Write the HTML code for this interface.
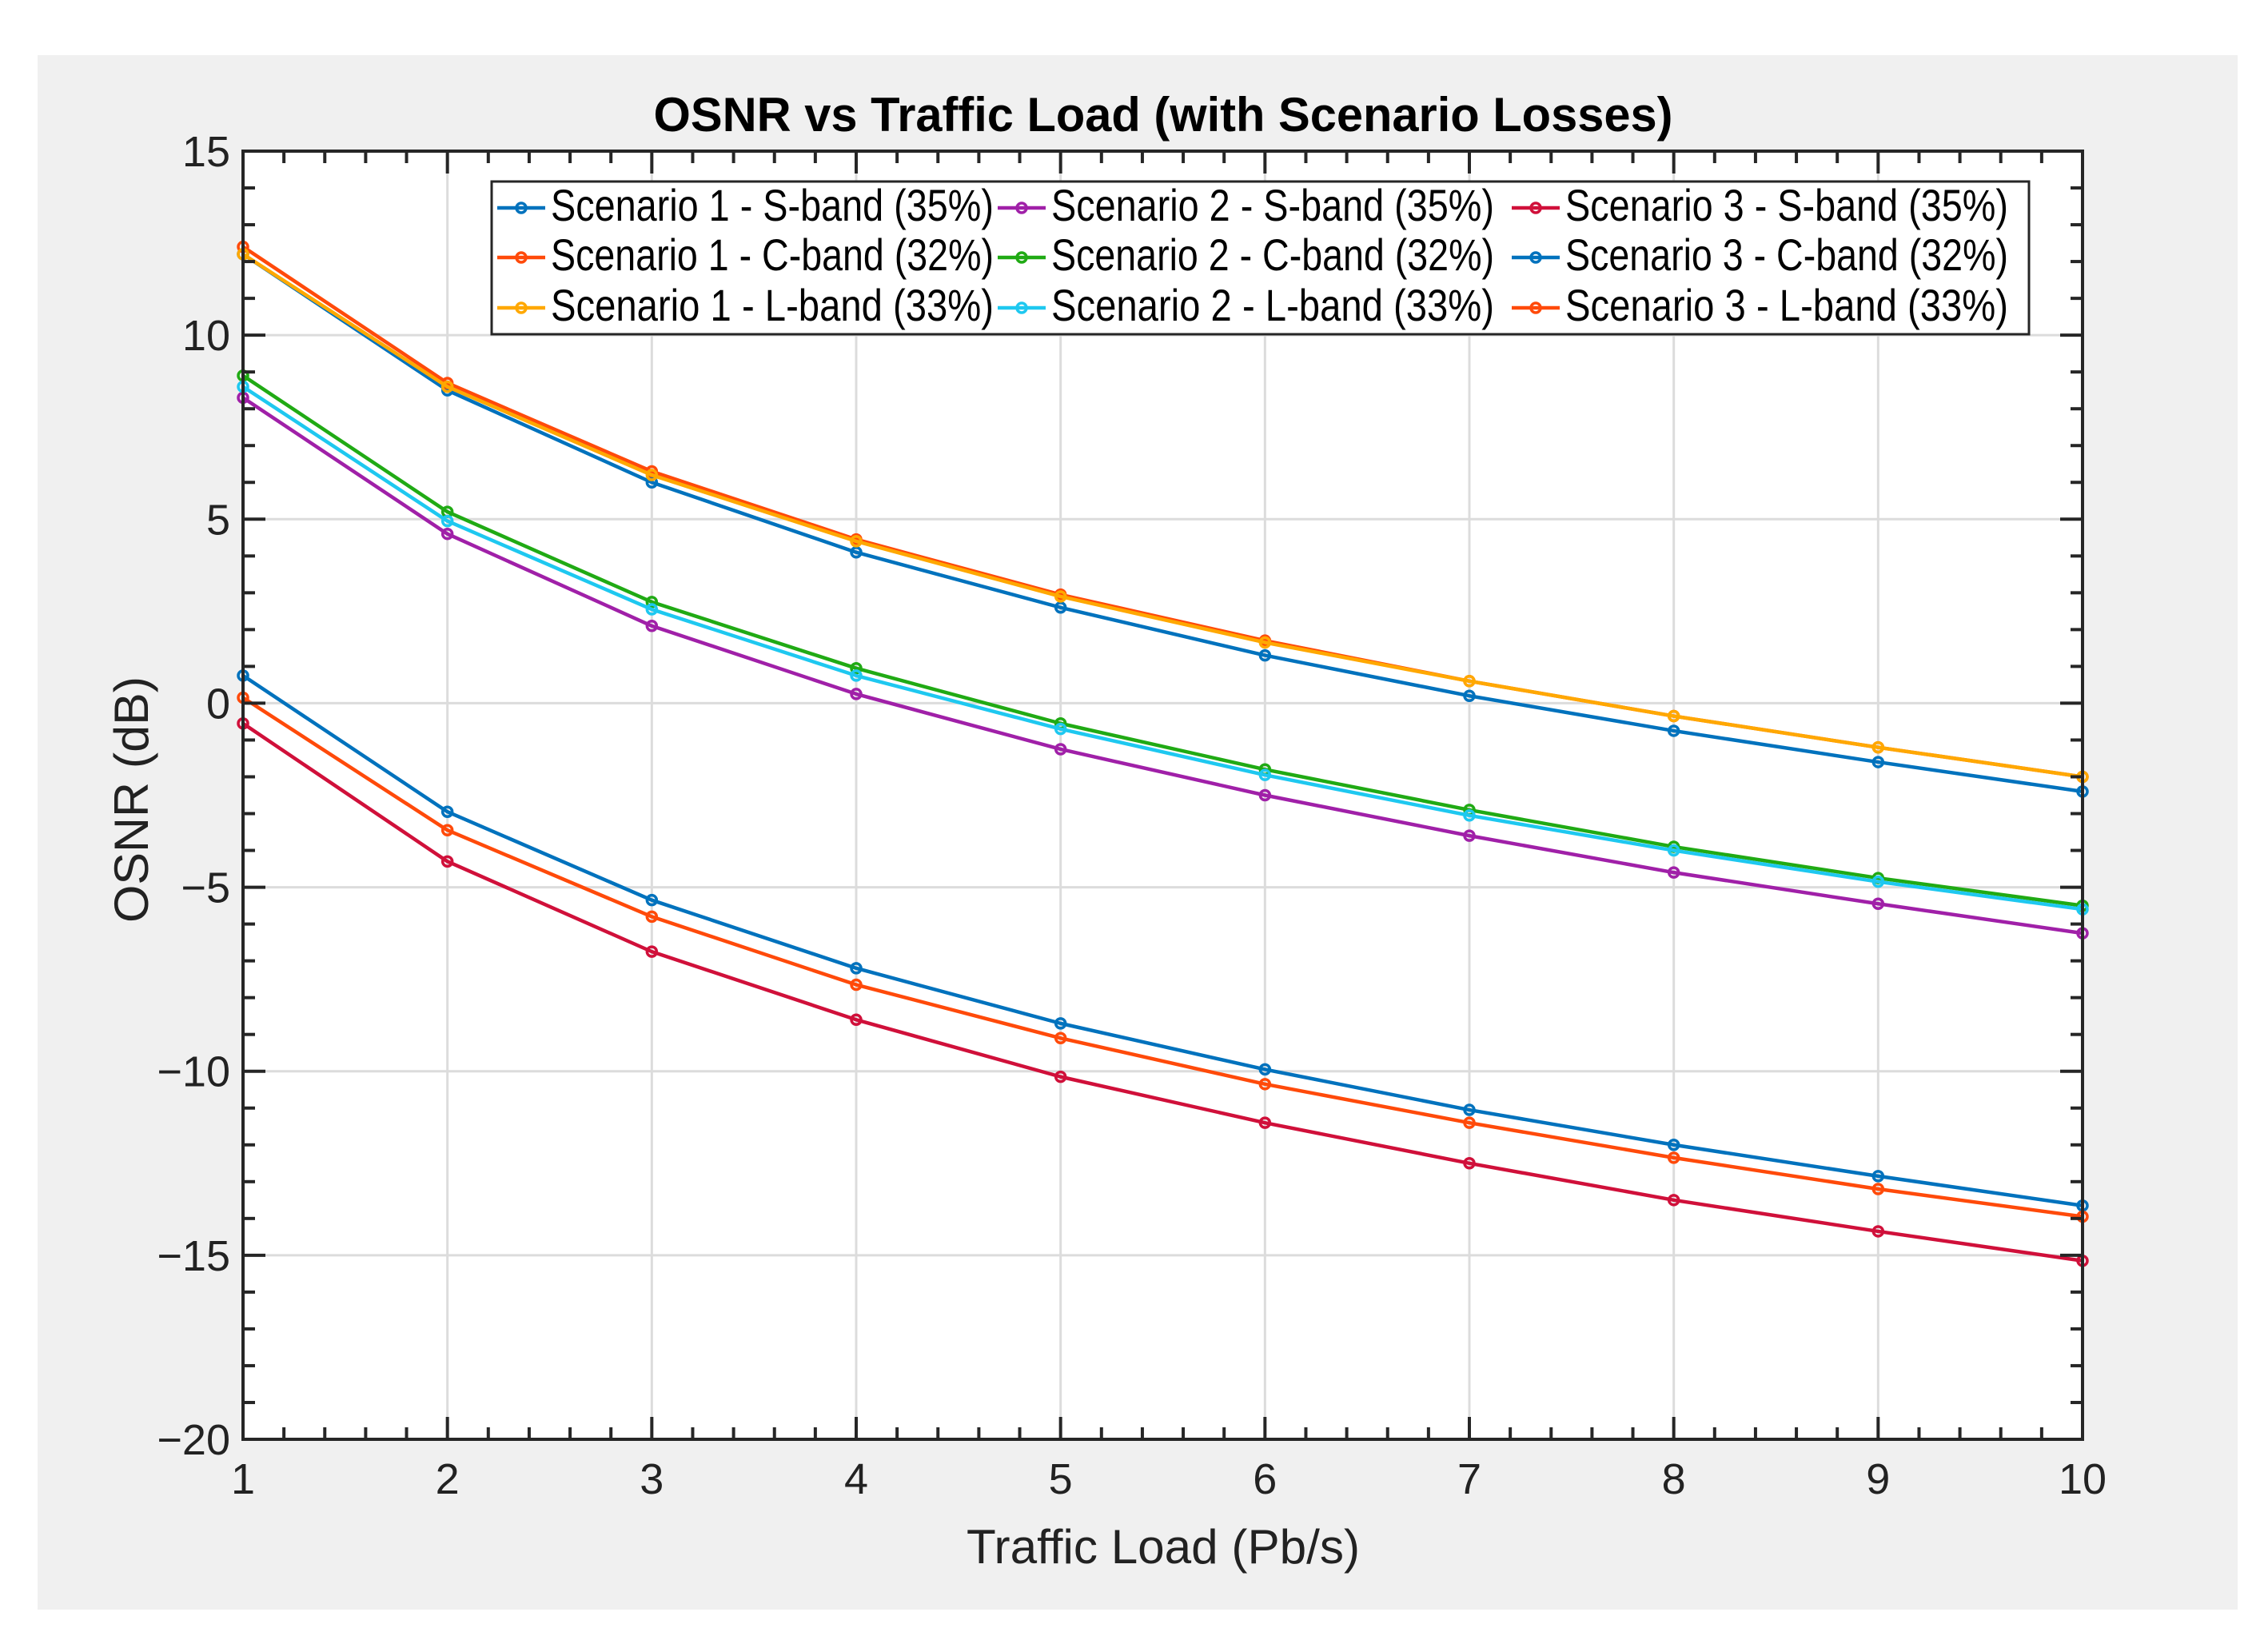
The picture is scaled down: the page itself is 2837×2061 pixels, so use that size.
<!DOCTYPE html>
<html><head><meta charset="utf-8"><style>
html,body{margin:0;padding:0;background:#fff}
svg text{font-family:"Liberation Sans",sans-serif;fill:#222}
</style></head><body>
<svg id="chart" width="2837" height="2056" xmlns="http://www.w3.org/2000/svg">
<rect x="47" y="69" width="2752" height="1944" fill="#f0f0f0"/>
<rect x="304" y="189" width="2301" height="1611" fill="#fff"/>
<g id="grid"></g><g id="series"></g><g id="axes"></g><g id="legend"></g>
<text x="1455" y="164" font-size="60" font-weight="bold" text-anchor="middle" textLength="1275" lengthAdjust="spacingAndGlyphs" style="fill:#000">OSNR vs Traffic Load (with Scenario Losses)</text>
<text x="1455" y="1955" font-size="60" text-anchor="middle" textLength="492" lengthAdjust="spacingAndGlyphs">Traffic Load (Pb/s)</text>
<text transform="translate(185,1000) rotate(-90)" font-size="60" text-anchor="middle" textLength="308" lengthAdjust="spacingAndGlyphs">OSNR (dB)</text>
</svg>
<script>
const categories=[1,2,3,4,5,6,7,8,9,10];
const xTicks=[1,2,3,4,5,6,7,8,9,10];
const yTicks=[-20,-15,-10,-5,0,5,10,15];
const s1S=[12.2,8.5,6.0,4.1,2.6,1.3,0.2,-0.75,-1.6,-2.4];
const s1C=[12.4,8.7,6.3,4.45,2.95,1.7,0.6,-0.35,-1.2,-2.0];
const s1L=[12.2,8.6,6.2,4.4,2.9,1.65,0.6,-0.35,-1.2,-2.0];
const s2S=[8.3,4.6,2.1,0.25,-1.25,-2.5,-3.6,-4.6,-5.45,-6.25];
const s2C=[8.9,5.2,2.75,0.95,-0.55,-1.8,-2.9,-3.9,-4.75,-5.5];
const s2L=[8.6,4.95,2.55,0.75,-0.7,-1.95,-3.05,-4.0,-4.85,-5.6];
const s3S=[-0.55,-4.3,-6.75,-8.6,-10.15,-11.4,-12.5,-13.5,-14.35,-15.15];
const s3C=[0.75,-2.95,-5.35,-7.2,-8.7,-9.95,-11.05,-12.0,-12.85,-13.65];
const s3L=[0.15,-3.45,-5.8,-7.65,-9.1,-10.35,-11.4,-12.35,-13.2,-13.95];
const seriesNames=["Scenario 1 - S-band (35%)","Scenario 1 - C-band (32%)","Scenario 1 - L-band (33%)","Scenario 2 - S-band (35%)","Scenario 2 - C-band (32%)","Scenario 2 - L-band (33%)","Scenario 3 - S-band (35%)","Scenario 3 - C-band (32%)","Scenario 3 - L-band (33%)"];

const NS="http://www.w3.org/2000/svg";
const L=304,R=2605,T=189,B=1800,X0=1,X1=10,Y0=-20,Y1=15;
const xs=v=>L+(v-X0)/(X1-X0)*(R-L);
const ys=v=>B-(v-Y0)/(Y1-Y0)*(B-T);
function mk(tag,attrs,parent){const e=document.createElementNS(NS,tag);for(const k in attrs)e.setAttribute(k,attrs[k]);parent.appendChild(e);return e;}
const grid=document.getElementById('grid'),axes=document.getElementById('axes'),sg=document.getElementById('series'),lg=document.getElementById('legend');
xTicks.forEach(v=>{const l=mk('line',{x1:xs(v),x2:xs(v),y1:T,y2:B,stroke:'#dcdcdc','stroke-width':3},grid);
});
yTicks.forEach(v=>{const l=mk('line',{x1:L,x2:R,y1:ys(v),y2:ys(v),stroke:'#dcdcdc','stroke-width':3},grid);
});
const colors=['#0072BD','#FF4A0A','#FFA800','#A020A8','#20AA14','#1EC8F0','#D0103A','#0072BD','#FF4A0A'];
const data=[s1S,s1C,s1L,s2S,s2C,s2L,s3S,s3C,s3L];
data.forEach((arr,i)=>{
 const g=mk('g',{},sg);
 
 
 mk('polyline',{points:arr.map((v,j)=>xs(categories[j])+','+ys(v)).join(' '),fill:'none',stroke:colors[i],'stroke-width':4.5,'stroke-linejoin':'round'},g);
 arr.forEach((v,j)=>{const c=mk('circle',{cx:xs(categories[j]),cy:ys(v),r:6,fill:'none',stroke:colors[i],'stroke-width':3.5},g);
 });
});
const box=mk('rect',{x:L,y:T,width:R-L,height:B-T,fill:'none',stroke:'#262626','stroke-width':4},axes);

for(let v=X0;v<=X1+1e-9;v+=0.2){const maj=Math.abs(v-Math.round(v))<1e-6;const len=maj?28:15;
 mk('line',{x1:xs(v),x2:xs(v),y1:B,y2:B-len,stroke:'#262626','stroke-width':4},axes);
 mk('line',{x1:xs(v),x2:xs(v),y1:T,y2:T+len,stroke:'#262626','stroke-width':4},axes);}
for(let v=Y0;v<=Y1;v+=1){const maj=v%5===0;const len=maj?28:15;
 mk('line',{x1:L,x2:L+len,y1:ys(v),y2:ys(v),stroke:'#262626','stroke-width':4},axes);
 mk('line',{x1:R,x2:R-len,y1:ys(v),y2:ys(v),stroke:'#262626','stroke-width':4},axes);}
xTicks.forEach(v=>{const t=mk('text',{x:xs(v),y:B+68,'font-size':54,'text-anchor':'middle'},axes);t.textContent=v;
 });
yTicks.forEach(v=>{const t=mk('text',{x:L-16,y:ys(v)+19,'font-size':54,'text-anchor':'end'},axes);t.textContent=v<0?'\u2212'+(-v):v;
 });
const lb=mk('rect',{x:615,y:227,width:1923,height:191,fill:'#fff',stroke:'#262626','stroke-width':3},lg);

const colX=[622,1248,1891],rowY=[260,322,385];
seriesNames.forEach((n,i)=>{const c=Math.floor(i/3),r=i%3;const x=colX[c],y=rowY[r];
 const g=mk('g',{},lg);
 
 
 mk('line',{x1:x,x2:x+60,y1:y,y2:y,stroke:colors[i],'stroke-width':4.5},g);
 mk('circle',{cx:x+30,cy:y,r:6,fill:'none',stroke:colors[i],'stroke-width':3.5},g);
 const t=mk('text',{x:x+67,y:y+16,'font-size':56,textLength:554,lengthAdjust:'spacingAndGlyphs'},g);t.textContent=n;t.style.fill='#000';});
</script>
</body></html>
